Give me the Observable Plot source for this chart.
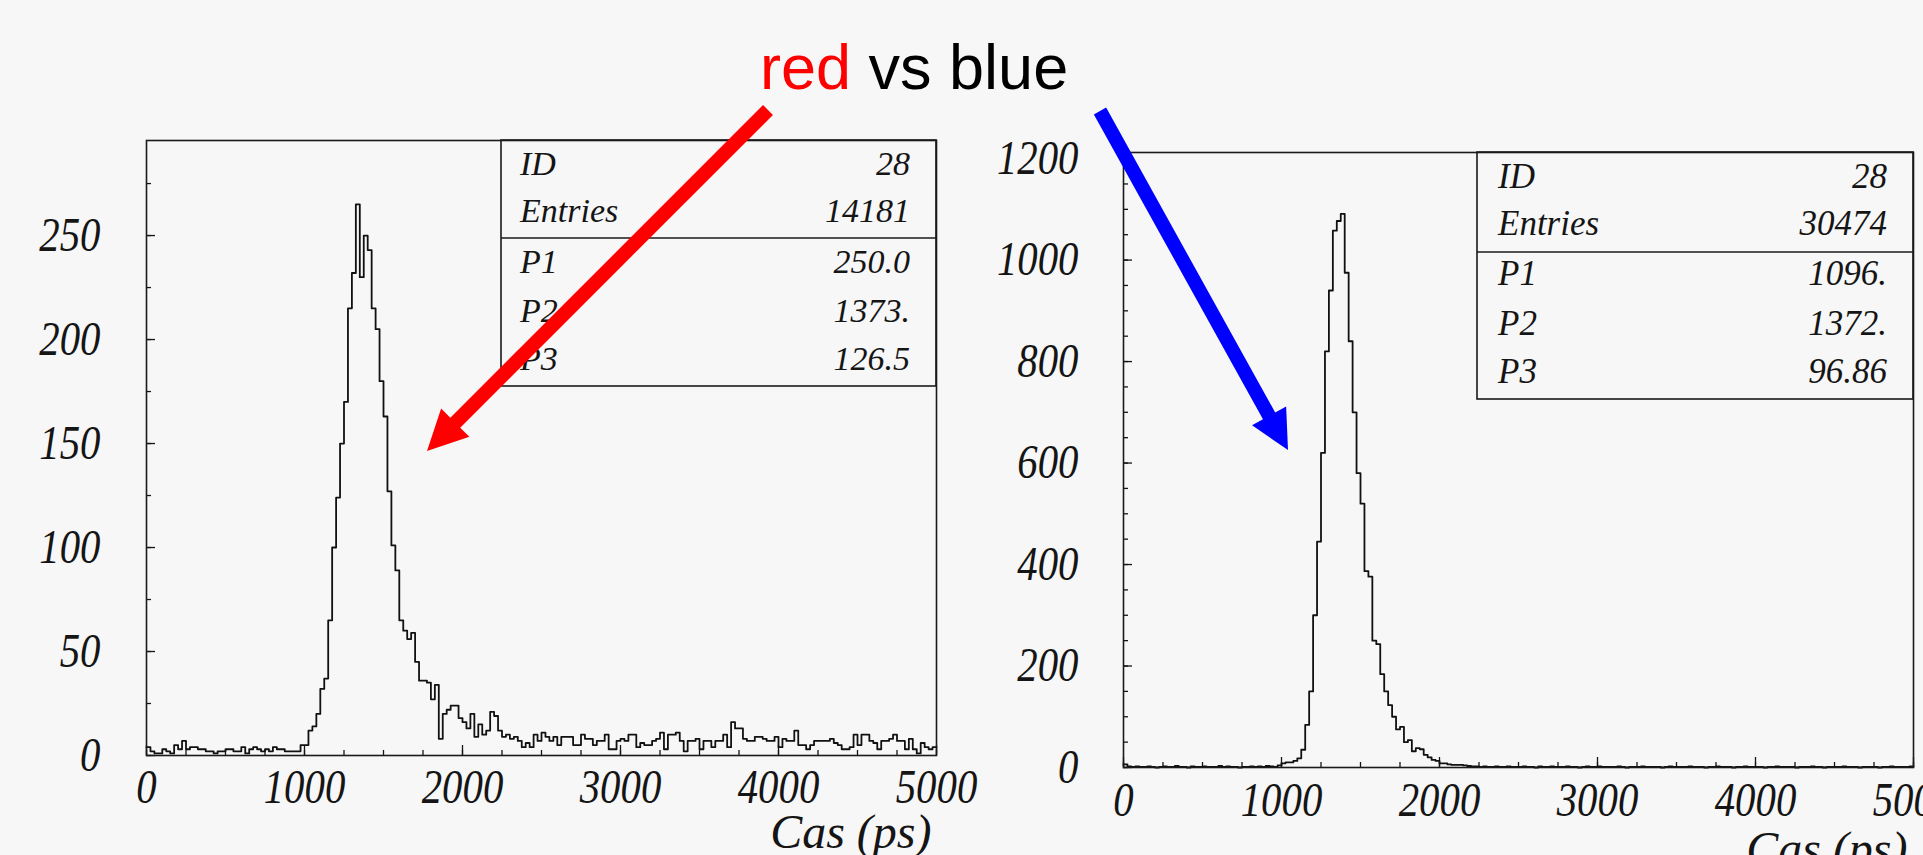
<!DOCTYPE html>
<html>
<head>
<meta charset="utf-8">
<script src="https://cdn.jsdelivr.net/npm/d3@7"></script>
<script src="https://cdn.jsdelivr.net/npm/@observablehq/plot@0.6"></script>
<style>
  html, body { margin: 0; padding: 0; background: #f7f7f7; }
  body { width: 1923px; height: 855px; position: relative; overflow: hidden; }
  .panel { position: absolute; top: 0; }
  #left { left: 0; }
  #right { left: 960px; }
  #overlay { position: absolute; left: 0; top: 0; pointer-events: none; }
</style>
</head>
<body>
<div id="left" class="panel"></div>
<div id="right" class="panel"></div>
<div id="overlay"></div>
<script>
// Time spectra: 200 bins of 25 ps from 0 to 5000 ps
const binWidth = 25;
const xMax = 5000;

// Left spectrum (ID 28, 14181 entries)
const leftCounts = [
  4, 2, 1, 1, 3, 2, 1, 5, 3, 7,   3, 4, 4, 3, 3, 2, 2, 1, 2, 2,
  3, 3, 2, 2, 4, 1, 3, 4, 3, 2,   3, 2, 4, 3, 3, 2, 2, 2, 2, 5,
  5, 12, 14, 20, 32, 37, 65, 100, 124, 150,
  170, 215, 232, 265, 230, 250, 243, 215, 205, 180,
  163, 127, 101, 89, 65, 60, 56, 59, 45, 36,
  36, 35, 27, 34, 8, 20, 22, 24, 24, 18,
  16, 13, 20, 9, 15, 10, 12, 21, 19, 12,
  9, 10, 8, 9, 7, 4, 6, 4, 10, 7,
  11, 9, 7, 9, 5, 9, 9, 9, 5, 5,  10, 8, 8, 5, 7, 7, 10, 3, 3, 7,
  8, 7, 10, 10, 4, 6, 5, 5, 7, 8,  11, 3, 10, 10, 11, 7, 2, 7, 7, 8,
  3, 7, 7, 4, 7, 7, 10, 4, 16, 13, 13, 8, 7, 7, 9, 9, 8, 7, 7, 9,
  4, 8, 7, 7, 12, 5, 5, 3, 5, 7,  7, 7, 7, 8, 6, 5, 3, 3, 4, 10,
  5, 10, 10, 7, 6, 3, 7, 7, 8, 10, 7, 7, 3, 8, 3, 1, 6, 4, 3, 4
];

// Right spectrum (ID 28, 30474 entries)
const rightCounts = [
  6, 2, 1, 2, 1, 1, 2, 1, 0, 1,   2, 1, 1, 3, 1, 1, 0, 2, 1, 1,
  2, 1, 1, 1, 3, 1, 2, 1, 1, 0,   1, 1, 2, 1, 2, 1, 3, 2, 1, 4,
  8, 10, 10, 13, 18, 35, 84, 150, 300, 445,
  620, 820, 940, 1058, 1077, 1091, 975, 840, 700, 580,
  520, 387, 376, 250, 243, 184, 150, 123, 100, 75,
  80, 50, 54, 32, 38, 36, 25, 20, 15, 13,
  8, 8, 6, 5, 5, 5, 4,
  3, 2, 2, 1, 2, 1, 1, 2, 1, 1, 2, 1, 1,
  1, 2, 1, 1, 0, 2, 1, 1, 2, 1,   1, 1, 2, 1, 1, 0, 1, 2, 1, 1,
  2, 1, 1, 1, 1, 2, 1, 0, 1, 1,   1, 2, 1, 1, 1, 1, 0, 1, 2, 1,
  1, 1, 1, 2, 1, 1, 1, 0, 1, 1,   2, 1, 1, 1, 0, 1, 1, 2, 1, 1,
  1, 1, 0, 1, 1, 2, 1, 1, 1, 1,   0, 1, 1, 1, 2, 1, 1, 0, 1, 1,
  1, 1, 2, 1, 1, 1, 0, 1, 1, 1,   1, 0, 1, 1, 2, 1, 1, 1, 1, 2
];

// Axis ticks
const xMajorTicks = [0, 1000, 2000, 3000, 4000, 5000];
const xMinorTicks = d3.range(0, 5001, 250);
const leftYLabels = [0, 50, 100, 150, 200, 250];
const leftYMinor = d3.range(0, 276, 25);
const rightYLabels = [0, 200, 400, 600, 800, 1000, 1200];
const rightYMinor = d3.range(0, 1201, 50);
const xTitle = "Cas (ps)";

// Statistics boxes
const statLabels = ["ID", "Entries", "P1", "P2", "P3"];
const leftStats = ["28", "14181", "250.0", "1373.", "126.5"];
const rightStats = ["28", "30474", "1096.", "1372.", "96.86"];

// Heading
const titleWords = ["red", "vs", "blue"];

const serif = "'Liberation Serif', 'Times New Roman', serif";

function histPanel(o) {
  const bins = o.counts.map((c, i) => ({x0: i * binWidth, count: c}));
  bins.push({x0: xMax, count: o.counts[o.counts.length - 1]});
  const tickText = {fontSize: 48, fontStyle: "italic", fontFamily: serif, tickFormat: d => String(d)};
  return Plot.plot({
    width: o.width,
    height: 855,
    marginTop: o.top,
    marginRight: o.right,
    marginBottom: o.bottom,
    marginLeft: o.left,
    style: {background: "transparent", overflow: "visible", fontFamily: serif, color: "#151515"},
    x: {domain: [0, xMax], label: null},
    y: {domain: [0, o.yMax], label: null},
    marks: [
      Plot.axisX(xMinorTicks, {tickSize: -5, tickFormat: () => "", strokeWidth: 1.3}),
      Plot.axisX(xMajorTicks, {...tickText, tickSize: -10, tickPadding: o.xPad, strokeWidth: 1.3}),
      Plot.axisY(o.yMinor, {tickSize: -5, tickFormat: () => "", strokeWidth: 1.3}),
      Plot.axisY(o.yLabels, {...tickText, tickSize: -9, tickPadding: o.yPad, strokeWidth: 1.3}),
      Plot.line(bins, {x: "x0", y: "count", curve: "step-after", stroke: "#111", strokeWidth: 1.8}),
      Plot.frame({stroke: "#1a1a1a", strokeWidth: 1.6}),
      Plot.text([xTitle], {
        text: d => d, frameAnchor: "bottom-right", textAnchor: "end",
        dx: o.titleDx, dy: o.titleDy, fontSize: 48, fontStyle: "italic", fontFamily: serif
      })
    ]
  });
}

const leftPlot = histPanel({
  counts: leftCounts, yMax: 295.7, yLabels: leftYLabels, yMinor: leftYMinor,
  width: 960, top: 140, right: 24, bottom: 100, left: 146,
  xPad: 23, yPad: 55, titleDx: -5, titleDy: 92
});
const rightPlot = histPanel({
  counts: rightCounts, yMax: 1212, yLabels: rightYLabels, yMinor: rightYMinor,
  width: 963, top: 152, right: 10, bottom: 88, left: 163,
  xPad: 24, yPad: 54, titleDx: -6, titleDy: 97
});
document.getElementById("left").appendChild(leftPlot);
document.getElementById("right").appendChild(rightPlot);

// Narrow the numeric tick labels, keeping each anchored where Plot placed it
d3.selectAll('g[aria-label$="tick label"] text').each(function () {
  const t = this.getAttribute("transform") || "";
  this.setAttribute("transform", t + " scale(0.85,1)");
});

// Annotation layer: heading, statistics boxes and arrows
const overlay = d3.select("#overlay").append("svg")
  .attr("width", 1923).attr("height", 855);

const heading = overlay.append("text")
  .attr("x", 760).attr("y", 89)
  .attr("font-family", "'Liberation Sans', Arial, sans-serif")
  .attr("font-size", 63);
heading.append("tspan").attr("fill", "#ff0000").text(titleWords[0]);
heading.append("tspan").attr("fill", "#000000").text(" " + titleWords.slice(1).join(" "));

function statsBox(box, values) {
  const g = overlay.append("g").attr("font-family", serif).attr("font-style", "italic")
    .attr("font-size", box.fontSize).attr("fill", "#151515");
  g.append("rect")
    .attr("x", box.x0).attr("y", box.y0)
    .attr("width", box.x1 - box.x0).attr("height", box.y1 - box.y0)
    .attr("fill", "none").attr("stroke", "#1a1a1a").attr("stroke-width", 1.6);
  g.append("line")
    .attr("x1", box.x0).attr("x2", box.x1).attr("y1", box.divider).attr("y2", box.divider)
    .attr("stroke", "#1a1a1a").attr("stroke-width", 1.6);
  statLabels.forEach((label, i) => {
    g.append("text").attr("x", box.x0 + box.padLeft).attr("y", box.baselines[i]).text(label);
    g.append("text").attr("x", box.x1 - box.padRight).attr("y", box.baselines[i])
      .attr("text-anchor", "end").text(values[i]);
  });
}

statsBox({x0: 501, x1: 936, y0: 140, y1: 386, divider: 238, padLeft: 19, padRight: 26,
          baselines: [175, 222, 273, 322, 370], fontSize: 34}, leftStats);
statsBox({x0: 1477, x1: 1913, y0: 152, y1: 399, divider: 252, padLeft: 21, padRight: 26,
          baselines: [188, 235, 285, 335, 383], fontSize: 35}, rightStats);

function arrow(from, tip, color, shaft, headLength, headWidth) {
  const dx = tip[0] - from[0], dy = tip[1] - from[1];
  const len = Math.hypot(dx, dy);
  const ux = dx / len, uy = dy / len;
  const nx = -uy, ny = ux;
  const bx = tip[0] - ux * headLength, by = tip[1] - uy * headLength;
  const pts = [
    [from[0] + nx * shaft / 2, from[1] + ny * shaft / 2],
    [bx + nx * shaft / 2, by + ny * shaft / 2],
    [bx + nx * headWidth / 2, by + ny * headWidth / 2],
    tip,
    [bx - nx * headWidth / 2, by - ny * headWidth / 2],
    [bx - nx * shaft / 2, by - ny * shaft / 2],
    [from[0] - nx * shaft / 2, from[1] - ny * shaft / 2]
  ];
  overlay.append("polygon").attr("points", pts.map(p => p.join(",")).join(" ")).attr("fill", color);
}

arrow([768, 110], [427, 451], "#ff0000", 14, 40, 40);
arrow([1100, 111], [1288, 450], "#0000ff", 14, 39, 39);
</script>
</body>
</html>
